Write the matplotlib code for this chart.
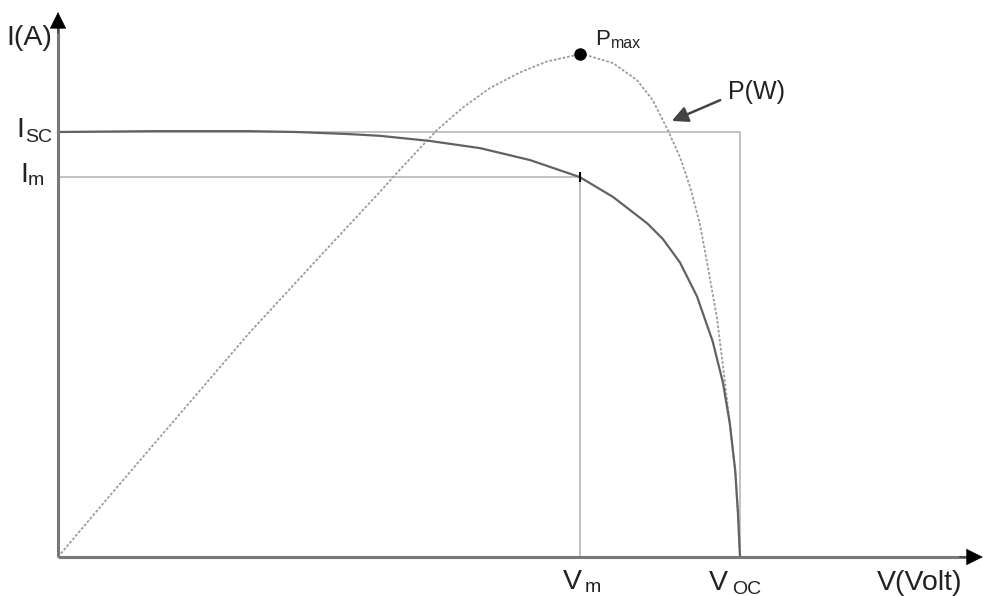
import numpy as np
import matplotlib
matplotlib.use('Agg')
import matplotlib.pyplot as plt

plt.rcParams['font.family'] = ['Liberation Sans', 'DejaVu Sans']

# normalised units: V / Voc and I / Isc (schematic, no ticks)
V_OC = 1.0
I_SC = 1.0
V_M = 0.765
I_M = 0.894
P_MAX = 1.184   # peak of the power curve, in the same vertical units

# I-V curve
v_iv = [0.0, 0.14, 0.28, 0.35, 0.428, 0.472, 0.545, 0.619, 0.692, 0.765, 0.814,
        0.864, 0.887, 0.912, 0.937, 0.960, 0.975, 0.985, 0.993, 0.997, 1.0]
i_iv = [1.0, 1.002, 1.002, 1.0, 0.995, 0.991, 0.979, 0.962, 0.934, 0.894, 0.847,
        0.785, 0.748, 0.693, 0.613, 0.507, 0.410, 0.315, 0.203, 0.103, 0.0]

# P-V curve (scaled)
v_p = [0.0, 0.062, 0.135, 0.282, 0.40, 0.472, 0.501, 0.556, 0.594, 0.633, 0.677,
       0.717, 0.768, 0.814, 0.849, 0.872, 0.894, 0.912, 0.927, 0.941, 0.952,
       0.966, 0.975, 0.985, 0.993, 0.997, 1.0]
p_w = [0.0, 0.118, 0.255, 0.530, 0.735, 0.859, 0.911, 1.005, 1.058, 1.103, 1.140,
       1.166, 1.184, 1.162, 1.122, 1.075, 1.005, 0.941, 0.870, 0.785, 0.690,
       0.565, 0.450, 0.315, 0.203, 0.103, 0.0]

axis_col = '#787878'
guide_col = '#bdbdbd'

fig = plt.figure(figsize=(9.83, 5.96), dpi=100)
ax = fig.add_axes([0, 0, 1, 1])
ax.set_xlim(-58 / 682, 925 / 682)
ax.set_ylim(-39 / 425, 557 / 425)
ax.axis('off')

# guide lines
ax.plot([0, V_OC], [I_SC, I_SC], color=guide_col, lw=1.3)
ax.plot([V_OC, V_OC], [0, I_SC], color=guide_col, lw=1.3)
ax.plot([0, V_M], [I_M, I_M], color=guide_col, lw=1.3)
ax.plot([V_M, V_M], [0, I_M], color=guide_col, lw=1.3)

# curves
ax.plot(v_p, p_w, color='#9c9c9c', lw=1.3, ls=(0, (1.5, 1.0)))
ax.plot(v_iv, i_iv, color='#626262', lw=1.6)
ax.plot([V_M], [I_M], marker='|', color='black', ms=7, mew=1.5)
ax.plot([V_M], [P_MAX], marker='o', color='black', ms=8)

# axes with arrow heads
x_end, y_end = 1.352, 1.282
ax.plot([0, x_end - 0.02], [0, 0], color=axis_col, lw=2.2, solid_capstyle='butt')
ax.plot([0, 0], [0, y_end - 0.03], color=axis_col, lw=2.2, solid_capstyle='butt')
head = dict(arrowstyle='-|>,head_length=0.5,head_width=0.25', color='black',
            lw=0.5, mutation_scale=22, shrinkA=0, shrinkB=0)
ax.annotate('', xy=(x_end + 0.004, 0), xytext=(x_end - 0.03, 0), arrowprops=head)
ax.annotate('', xy=(0, y_end), xytext=(0, y_end - 0.05), arrowprops=head)

txt = dict(color='#222222', ha='left', va='baseline')
big, small = 20.5, 14
ax.text(-0.075, 1.204, 'I(A)', fontsize=big, **txt)
ax.text(-0.061, I_SC - 0.012, 'I', fontsize=big, **txt)
ax.text(-0.048, I_SC - 0.024, 'SC', fontsize=small, **txt)
ax.text(-0.055, I_M - 0.012, 'I', fontsize=big, **txt)
ax.text(-0.045, I_M - 0.018, 'm', fontsize=small, **txt)
ax.text(V_M - 0.024, -0.076, 'V', fontsize=big, **txt)
ax.text(V_M + 0.008, -0.083, 'm', fontsize=small, **txt)
ax.text(V_OC - 0.046, -0.078, 'V', fontsize=big, **txt)
ax.text(V_OC - 0.012, -0.086, 'OC', fontsize=small, **txt)
ax.text(1.200, -0.078, 'V(Volt)', fontsize=big, **txt)
ax.text(V_M + 0.022, P_MAX + 0.021, 'P', fontsize=16, **txt)
ax.text(V_M + 0.046, P_MAX + 0.014, 'max', fontsize=11.5, **txt)
ax.text(0.982, 1.078, 'P(W)', fontsize=18, **txt)
ax.annotate('', xy=(0.900, 1.026), xytext=(0.971, 1.075),
            arrowprops=dict(arrowstyle='-|>,head_length=0.6,head_width=0.3',
                            color='#444444', lw=1.8, mutation_scale=16,
                            shrinkA=0, shrinkB=0))

fig.savefig('out.png', dpi=100)
